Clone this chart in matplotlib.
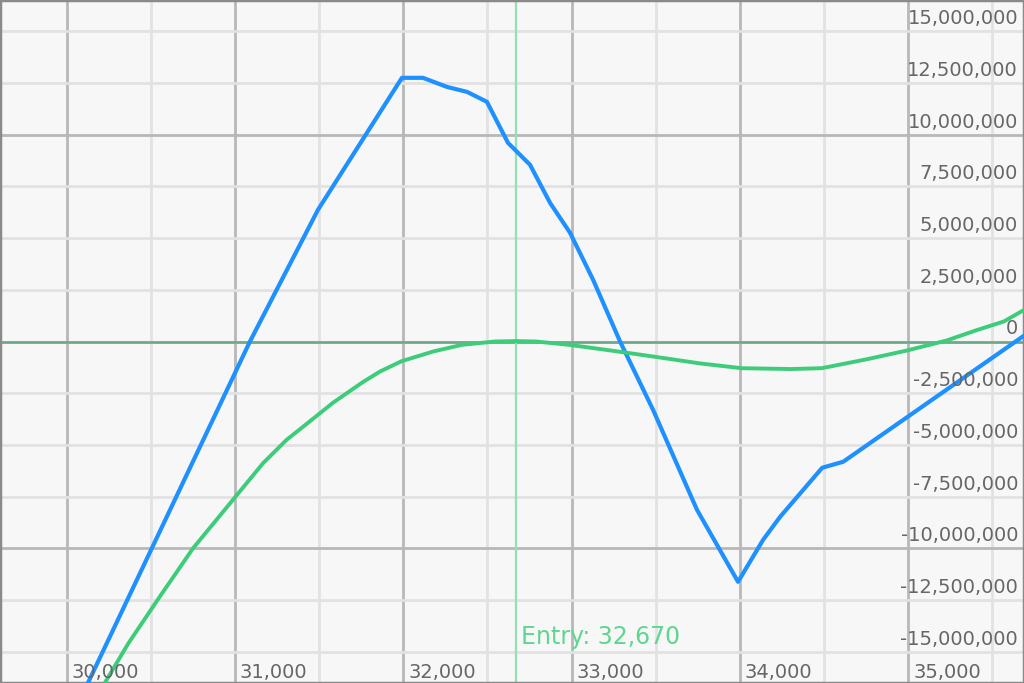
import matplotlib.pyplot as plt
import matplotlib.transforms as mtransforms
from matplotlib.ticker import MultipleLocator

# price levels (x) and P/L values (y)
blue_x = [30100, 31089, 31493, 31992, 32117, 32260, 32379, 32497, 32622, 32753,
          32872, 32991, 33128, 33288, 33484, 33745, 33989, 34138, 34239, 34489,
          34614, 35700]
blue_y = [-16.95e6, 0.0, 6.36e6, 12.74e6, 12.74e6, 12.30e6, 12.06e6, 11.58e6, 9.60e6, 8.54e6,
          6.70e6, 5.25e6, 2.98e6, 0.0, -3.30e6, -8.13e6, -11.61e6, -9.58e6, -8.47e6, -6.10e6,
          -5.81e6, 0.35e6]

green_x = [30200, 30238, 30367, 30554, 30752, 31004, 31168, 31307, 31426, 31584,
           31762, 31862, 31990, 32179, 32349, 32545, 32670, 32789, 32985, 33229,
           33497, 33764, 34010, 34303, 34486, 34741, 34985, 35229, 35400, 35569,
           35700]
green_y = [-16.87e6, -16.34e6, -14.58e6, -12.32e6, -9.98e6, -7.49e6, -5.87e6, -4.75e6, -3.98e6, -2.95e6,
           -1.95e6, -1.45e6, -0.95e6, -0.48e6, -0.16e6, 0.0, 0.02e6, 0.0, -0.16e6, -0.43e6,
           -0.74e6, -1.06e6, -1.29e6, -1.33e6, -1.29e6, -0.88e6, -0.45e6, 0.05e6, 0.53e6, 0.97e6,
           1.58e6]

entry_price = 32670
x_ticks = [30000, 31000, 32000, 33000, 34000, 35000]
y_ticks = [-15e6, -12.5e6, -10e6, -7.5e6, -5e6, -2.5e6, 0, 2.5e6, 5e6, 7.5e6, 10e6, 12.5e6, 15e6]

fig = plt.figure(figsize=(10.24, 6.83), dpi=100)
fig.patch.set_facecolor('#f7f7f7')
ax = fig.add_axes([0, 0, 1, 1])
ax.set_facecolor('#f7f7f7')

ax.set_xlim(29604, 35688)
ax.set_ylim(-16.5e6, 16.5e6)

ax.xaxis.set_major_locator(MultipleLocator(1000))
ax.xaxis.set_minor_locator(MultipleLocator(500))
ax.yaxis.set_major_locator(MultipleLocator(10e6))
ax.yaxis.set_minor_locator(MultipleLocator(2.5e6))
ax.grid(which='minor', color='#e2e2e2', lw=2)
ax.grid(which='major', color='#b8b8b8', lw=2)
ax.tick_params(which='both', length=0, labelbottom=False, labelleft=False)

for s in ax.spines.values():
    s.set_color('#8a8a8a')
    s.set_linewidth(2.5)

ax.axhline(0, color='#6fa98b', lw=1.8, zorder=2)
ax.axvline(entry_price, color='#93e0b3', lw=1.6, zorder=2)

ax.plot(blue_x, blue_y, color='#1e90ff', lw=3.0, zorder=3, solid_joinstyle='round')
ax.plot(green_x, green_y, color='#3dcc7a', lw=2.8, zorder=3, solid_joinstyle='round')

# tick labels drawn inside the plot area
xtr = mtransforms.offset_copy(ax.get_xaxis_transform(), fig=fig, x=5, y=1, units='dots')
for t in x_ticks:
    ax.text(t, 0, f'{t:,}', transform=xtr, ha='left', va='bottom',
            fontsize=14, color='#666666', zorder=4)

ytr = mtransforms.offset_copy(ax.get_yaxis_transform(), fig=fig, x=-6, y=3, units='dots')
for t in y_ticks:
    ax.text(1, t, f'{int(t):,}', transform=ytr, ha='right', va='bottom',
            fontsize=14, color='#666666', zorder=4)

etr = mtransforms.offset_copy(ax.get_xaxis_transform(), fig=fig, x=5, y=0, units='dots')
ax.text(entry_price, 0.05, f'Entry: {entry_price:,}', transform=etr, ha='left', va='bottom',
        fontsize=17, color='#5fd690', zorder=4)

fig.savefig('out.png', dpi=100, facecolor=fig.get_facecolor())
